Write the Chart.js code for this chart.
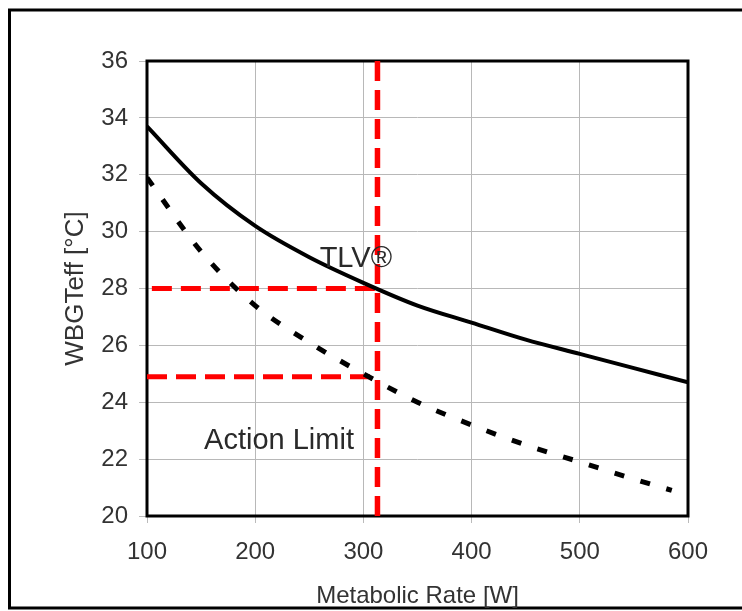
<!DOCTYPE html>
<html>
<head>
<meta charset="utf-8">
<script src="https://cdn.jsdelivr.net/npm/chart.js@4.4.1/dist/chart.umd.min.js"></script>
<style>
  html, body { margin: 0; padding: 0; background: #fff; }
  #wrap { width: 742px; height: 611px; position: relative; }
</style>
</head>
<body>
<div id="wrap"><canvas id="chart" width="742" height="611"></canvas></div>
<script>
// values
const tlvRates = [100, 150, 200, 250, 300, 350, 400, 450, 500, 550, 600];
const tlvValues = [33.7, 31.7, 30.2, 29.1, 28.2, 27.4, 26.8, 26.2, 25.7, 25.2, 24.7];

const actionRates = [100, 150, 200, 250, 300, 350, 400, 450, 500, 550, 585];
const actionValues = [31.9, 29.3, 27.4, 26.1, 25.0, 24.0, 23.2, 22.5, 21.9, 21.3, 20.9];

// red guide lines
const guideRate = 313;
const guideTlv = 28.0;
const guideAction = 24.9;

const xTicks = [100, 200, 300, 400, 500, 600];
const yTicks = [20, 22, 24, 26, 28, 30, 32, 34, 36];

// text labels in data units
const notes = [
    { text: "TLV®", x: 293, y: 29.05 },
    { text: "Action Limit", x: 222, y: 22.65 }
];

const FONT = "'Liberation Sans', Arial, sans-serif";

function pts(xs, ys) {
    return xs.map((x, i) => ({ x: x, y: ys[i] }));
}

const frame = {
    id: "frame",
    beforeDraw(chart) {
        const c = chart.ctx;
        c.save();
        c.strokeStyle = "#000";
        c.lineWidth = 3;
        c.beginPath();
        c.moveTo(760, 10);
        c.lineTo(9.5, 10);
        c.lineTo(9.5, 608);
        c.lineTo(760, 608);
        c.stroke();
        c.restore();
    },
    beforeDatasetsDraw(chart) {
        const a = chart.chartArea;
        const c = chart.ctx;
        c.save();
        c.strokeStyle = "#000";
        c.lineWidth = 3;
        c.strokeRect(a.left, a.top, a.right - a.left, a.bottom - a.top);
        c.restore();
    },
    afterDatasetsDraw(chart) {
        const c = chart.ctx;
        const xs = chart.scales.x, ys = chart.scales.y;
        c.save();
        c.fillStyle = "#2a2a2a";
        c.font = "29px " + FONT;
        c.textAlign = "center";
        c.textBaseline = "middle";
        notes.forEach(n => c.fillText(n.text, xs.getPixelForValue(n.x), ys.getPixelForValue(n.y)));
        c.restore();
    }
};

const ctx = document.getElementById("chart").getContext("2d");
new Chart(ctx, {
    type: "scatter",
    data: {
        datasets: [
            {
                label: "TLV",
                data: pts(tlvRates, tlvValues),
                showLine: true,
                borderColor: "#000",
                borderWidth: 4,
                pointRadius: 0,
                tension: 0.4,
                cubicInterpolationMode: "monotone"
            },
            {
                label: "Action Limit",
                data: pts(actionRates, actionValues),
                showLine: true,
                borderColor: "#000",
                borderWidth: 5,
                borderDash: [10, 17],
                pointRadius: 0,
                tension: 0.4,
                cubicInterpolationMode: "monotone"
            },
            {
                label: "guide v",
                data: [{ x: guideRate, y: 20 }, { x: guideRate, y: 36.2 }],
                showLine: true,
                borderColor: "#ff0000",
                borderWidth: 5.5,
                borderDash: [20, 9],
                pointRadius: 0,
                clip: false
            },
            {
                label: "guide tlv",
                data: [{ x: 104.5, y: guideTlv }, { x: guideRate + 1, y: guideTlv }],
                showLine: true,
                borderColor: "#ff0000",
                borderWidth: 5,
                borderDash: [20, 9],
                pointRadius: 0
            },
            {
                label: "guide action",
                data: [{ x: 100, y: guideAction }, { x: guideRate - 1, y: guideAction }],
                showLine: true,
                borderColor: "#ff0000",
                borderWidth: 5,
                borderDash: [20, 9],
                pointRadius: 0
            }
        ]
    },
    options: {
        responsive: false,
        animation: false,
        layout: { padding: { left: 60, right: 54, top: 61, bottom: 0 } },
        plugins: {
            legend: { display: false },
            tooltip: { enabled: false }
        },
        scales: {
            x: {
                type: "linear",
                min: 100,
                max: 600,
                afterBuildTicks: s => { s.ticks = xTicks.map(v => ({ value: v })); },
                afterFit: s => { s.height = 95; },
                grid: { color: "#b8b8b8", lineWidth: 1, tickLength: 7, tickColor: "#bbb" },
                border: { display: false },
                ticks: {
                    color: "#333",
                    padding: 15,
                    font: { family: FONT, size: 24 }
                },
                title: {
                    display: true,
                    text: "Metabolic Rate [W]",
                    color: "#333",
                    font: { family: FONT, size: 24 },
                    padding: { top: 11, bottom: 0 }
                }
            },
            y: {
                min: 20,
                max: 36,
                afterBuildTicks: s => { s.ticks = yTicks.map(v => ({ value: v })); },
                afterFit: s => { s.width = 87; },
                grid: { color: "#b8b8b8", lineWidth: 1, tickLength: 8, tickColor: "#bbb" },
                border: { display: false },
                ticks: {
                    color: "#333",
                    padding: 11,
                    font: { family: FONT, size: 24 }
                },
                title: {
                    display: true,
                    text: "WBGTeff [°C]",
                    color: "#333",
                    font: { family: FONT, size: 26 },
                    padding: { top: 0, bottom: 4 }
                }
            }
        }
    },
    plugins: [frame]
});
</script>
</body>
</html>
